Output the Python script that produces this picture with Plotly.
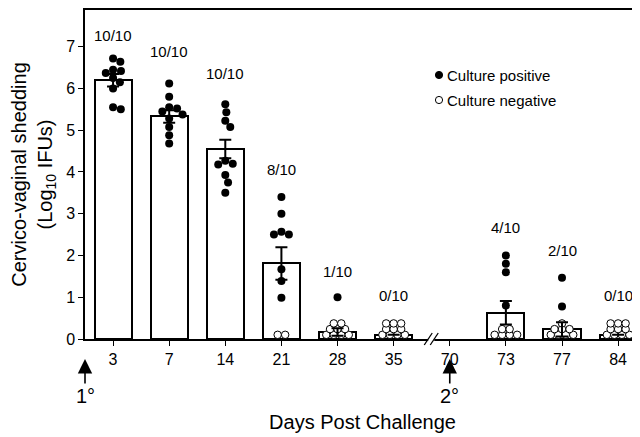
import plotly.graph_objects as go

# ---------------- data ----------------
days = ["3", "7", "14", "21", "28", "35", "70", "73", "77", "84"]
bar_days = ["3", "7", "14", "21", "28", "35", "73", "77", "84"]
bar_means = [6.2, 5.33, 4.55, 1.81, 0.17, 0.1, 0.63, 0.23, 0.1]
bar_sem = [0.15, 0.15, 0.22, 0.39, 0.09, 0.0, 0.28, 0.17, 0.0]

pos_d3 = [6.72, 6.64, 6.45, 6.42, 6.37, 6.25, 6.15, 6.0, 5.55, 5.5]
pos_d7 = [6.12, 5.8, 5.55, 5.52, 5.45, 5.38, 5.28, 5.08, 4.88, 4.68]
pos_d14 = [5.62, 5.43, 5.23, 5.08, 4.27, 4.2, 4.18, 3.93, 3.75, 3.5]
pos_d21 = [3.4, 3.0, 2.57, 2.5, 2.5, 1.67, 1.39, 0.99]
pos_d28 = [1.0]
pos_d35 = []
pos_d73 = [2.0, 1.8, 1.6, 0.8]
pos_d77 = [1.47, 0.78]
pos_d84 = []
neg_counts = [0, 0, 0, 2, 9, 10, 6, 8, 10]
neg_value = 0.1
n_animals = 10

positives = [pos_d3, pos_d7, pos_d14, pos_d21, pos_d28, pos_d35, pos_d73, pos_d77, pos_d84]

# annotation placement (text heights, in axis units)
count_label_y = [7.26, 6.88, 6.35, 4.05, 1.61, 1.05, 2.66, 2.13, 1.05]

# ---------------- geometry helpers ----------------
# the page body adds an 8px offset; margins compensate so the plot area
# lands at x 85..640, y 10..339 in the browser window
W, H = 640, 437
ML, MR, MT, MB = 77, 8, 2, 106
PW = W - ML - MR
PH = H - MT - MB
PLOT_TOP_WIN = 10
PLOT_BOT_WIN = PLOT_TOP_WIN + PH
PLOT_LEFT_WIN = 85
xr = [-0.5, 9.39]
yr = [0, 7.88]
sx = PW / (xr[1] - xr[0])   # px per x unit
sy = PH / (yr[1] - yr[0])   # px per y unit

D_POS = 8.0
D_NEG = 7.5
ROW_GAP = 5.7


def swarm(vals, d):
    placed, out = [], []
    for v in sorted(vals, reverse=True):
        y = v * sy
        cands = [0.0]
        for px, py in placed:
            dy = abs(py - y)
            if dy < d:
                dx = (d * d - dy * dy) ** 0.5
                cands += [px + dx + 0.01, px - dx - 0.01]
        cands.sort(key=abs)
        chosen = cands[-1]
        for c in cands:
            if all((c - px) ** 2 + (y - py) ** 2 >= d * d - 1e-6 for px, py in placed):
                chosen = c
                break
        placed.append((chosen, y))
        out.append((chosen / sx, v))
    return out


def stack(n):
    pts = []
    row = 0
    remaining = n
    while remaining > 0:
        cap = 4 if row % 2 == 0 else 3
        k = min(cap, remaining)
        for j in range(k):
            pts.append(((j - (k - 1) / 2) * D_NEG / sx, neg_value + row * ROW_GAP / sy))
        remaining -= k
        row += 1
    return pts, row


slot = {d: i for i, d in enumerate(days)}
bx = [slot[d] for d in bar_days]

FONT = "Liberation Sans, Arial, Helvetica, sans-serif"

fig = go.Figure()

fig.add_trace(go.Bar(
    x=bx, y=bar_means, width=0.66,
    marker=dict(color="white", line=dict(color="black", width=2)),
    showlegend=False, hoverinfo="skip",
))

px_pos, py_pos, px_neg, py_neg = [], [], [], []
annotations = []
for i, d in enumerate(bar_days):
    x0 = slot[d]
    npts, nrows = stack(neg_counts[i])
    for ox, oy in npts:
        px_neg.append(x0 + ox)
        py_neg.append(oy)
    for ox, v in swarm(positives[i], D_POS):
        px_pos.append(x0 + ox)
        py_pos.append(v)
    annotations.append(dict(
        x=x0, y=count_label_y[i], xref="x", yref="y",
        text=f"{len(positives[i])}/{n_animals}", showarrow=False,
        font=dict(family=FONT, size=15, color="black"),
    ))

fig.add_trace(go.Scatter(
    x=px_neg, y=py_neg, mode="markers",
    marker=dict(size=D_NEG, color="white", line=dict(color="black", width=1)),
    showlegend=False, hoverinfo="skip", cliponaxis=False,
))
fig.add_trace(go.Scatter(
    x=px_pos, y=py_pos, mode="markers",
    marker=dict(size=D_POS, color="black", line=dict(width=0)),
    showlegend=False, hoverinfo="skip", cliponaxis=False,
))
fig.add_trace(go.Scatter(
    x=bx, y=bar_means, mode="markers",
    marker=dict(size=1, opacity=0),
    error_y=dict(type="data", array=bar_sem, visible=True, color="black", thickness=2, width=6),
    showlegend=False, hoverinfo="skip",
))

# primary / secondary challenge arrows
for xv, lab in [(xr[0], "1°"), (slot["70"], "2°")]:
    annotations.append(dict(
        x=xv, y=-20 / PH, xref="x", yref="paper",
        text=lab, showarrow=True, ax=0, ay=37,
        arrowhead=2, arrowsize=1.8, arrowwidth=1.6, arrowcolor="black",
        font=dict(family=FONT, size=20, color="black"),
    ))

# legend (manual)
shapes = []
leg_x = (439 - PLOT_LEFT_WIN) / PW
for k, (lab, fill) in enumerate([("Culture positive", "black"), ("Culture negative", "white")]):
    yy = (PLOT_BOT_WIN - (75 + 25 * k)) / PH
    shapes.append(dict(
        type="circle", xref="paper", yref="paper",
        xsizemode="pixel", ysizemode="pixel", xanchor=leg_x, yanchor=yy,
        x0=-3.6, x1=3.6, y0=-3.6, y1=3.6,
        fillcolor=fill, line=dict(color="black", width=1),
    ))
    annotations.append(dict(
        x=leg_x, xshift=6, y=yy, xref="paper", yref="paper",
        text=lab, showarrow=False, xanchor="left", yanchor="middle",
        font=dict(family=FONT, size=15, color="black"),
    ))

# axis break marks
brk = slot["35"] + 0.67
shapes.append(dict(
    type="rect", xref="x", yref="paper", xsizemode="pixel", ysizemode="pixel",
    xanchor=brk, yanchor=0, x0=-3, x1=3, y0=-2, y1=2,
    fillcolor="white", line=dict(width=0), layer="above",
))
for off in (-3, 3):
    shapes.append(dict(
        type="line", xref="x", yref="paper", xsizemode="pixel", ysizemode="pixel",
        xanchor=brk, yanchor=0, x0=off - 4, x1=off + 4, y0=-6, y1=6,
        line=dict(color="black", width=1.3), layer="above",
    ))

fig.update_layout(
    width=W, height=H,
    margin=dict(l=ML, r=MR, t=MT, b=MB, autoexpand=False),
    plot_bgcolor="white", paper_bgcolor="white",
    font=dict(family=FONT, color="black"),
    bargap=0,
    annotations=annotations,
    shapes=shapes,
    xaxis=dict(
        range=xr, tickmode="array", tickvals=list(range(len(days))), ticktext=days,
        automargin=False,
        showgrid=False, zeroline=False, showline=True, linecolor="black", linewidth=1.5,
        mirror=True, ticks="outside", ticklen=5, tickcolor="black", tickwidth=1.2,
        tickfont=dict(family=FONT, size=16, color="black"),
        title=dict(text="Days Post Challenge", font=dict(family=FONT, size=20, color="black"), standoff=48),
    ),
    yaxis=dict(
        range=yr, tickmode="array", tickvals=list(range(0, 8)),
        automargin=False,
        showgrid=False, zeroline=False, showline=True, linecolor="black", linewidth=1.5,
        ticks="outside", ticklen=5, tickcolor="black", tickwidth=1.2,
        tickfont=dict(family=FONT, size=16, color="black"),
        title=dict(text="Cervico-vaginal shedding<br>(Log<sub>10</sub> IFUs)",
                   font=dict(family=FONT, size=20, color="black"), standoff=13),
    ),
)

fig.write_html("out.html")
